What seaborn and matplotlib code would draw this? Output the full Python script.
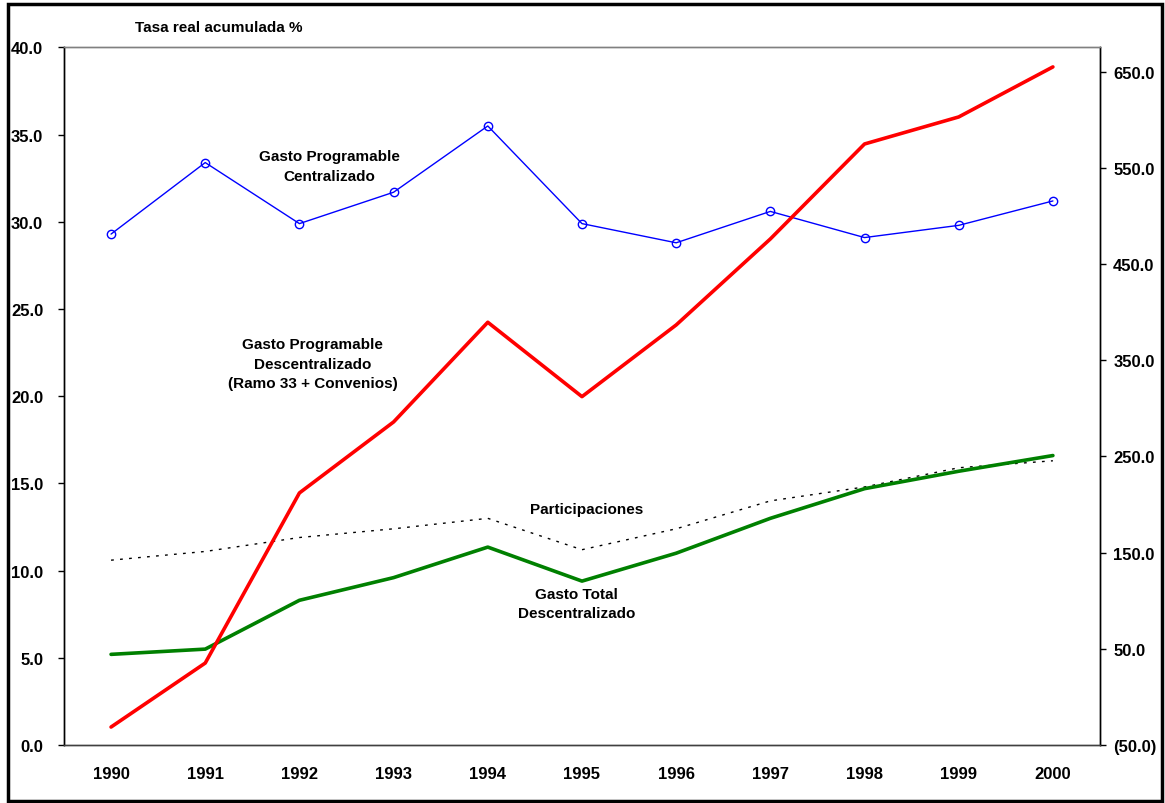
import numpy as np
import pandas as pd
import seaborn as sns
import matplotlib.pyplot as plt
from matplotlib.patches import Rectangle
from matplotlib.ticker import FixedLocator, FuncFormatter

# Datos
anios = [1990, 1991, 1992, 1993, 1994, 1995, 1996, 1997, 1998, 1999, 2000]
gasto_centralizado = [29.3, 33.4, 29.9, 31.7, 35.5, 29.9, 28.8, 30.6, 29.1, 29.8, 31.2]
gasto_descentralizado = [-31.3, 35.2, 212.0, 285.8, 389.4, 312.1, 386.6, 476.0, 574.7, 602.8, 654.8]
gasto_total_desc = [5.2, 5.5, 8.3, 9.6, 11.35, 9.4, 11.0, 13.0, 14.7, 15.7, 16.6]
participaciones = [10.6, 11.1, 11.9, 12.4, 13.0, 11.2, 12.4, 14.0, 14.8, 15.9, 16.3]

df = pd.DataFrame({
    'anio': anios,
    'centralizado': gasto_centralizado,
    'descentralizado': gasto_descentralizado,
    'total': gasto_total_desc,
    'participaciones': participaciones,
})

sns.set_style('white')
plt.rcParams['font.family'] = ['Liberation Sans', 'DejaVu Sans']
plt.rcParams['font.weight'] = 'bold'
plt.rcParams['text.color'] = 'black'
plt.rcParams['xtick.color'] = 'black'
plt.rcParams['ytick.color'] = 'black'
plt.rcParams['axes.labelcolor'] = 'black'

fig = plt.figure(figsize=(11.65, 8.04), dpi=100)
ax = fig.add_axes([0.0549, 0.0721, 0.9442 - 0.0549, 0.9397 - 0.0721])
ax2 = ax.twinx()

sns.lineplot(data=df, x='anio', y='participaciones', ax=ax, color='black',
             lw=1.0, linestyle=(0, (2, 4.5)), estimator=None)
sns.lineplot(data=df, x='anio', y='total', ax=ax, color='#008000',
             lw=2.6, estimator=None, solid_joinstyle='round')
sns.lineplot(data=df, x='anio', y='centralizado', ax=ax, color='#0000FF',
             lw=1.0, marker='o', markersize=6, markerfacecolor='none',
             markeredgecolor='#0000FF', markeredgewidth=1.0, estimator=None)
sns.lineplot(data=df, x='anio', y='descentralizado', ax=ax2, color='#FF0000',
             lw=2.6, estimator=None, solid_joinstyle='round', solid_capstyle='round')

# Ejes
ax.set_xlim(1989.5, 2000.5)
ax.set_ylim(0, 40)
ax2.set_ylim(-50, 675)
ax.set_xlabel('')
ax.set_ylabel('')
ax2.set_ylabel('')

ax.set_xticks(anios)
ax.set_xticklabels([str(a) for a in anios])
ax.xaxis.set_minor_locator(FixedLocator(np.arange(1989.5, 2001, 1)))
ax.tick_params(axis='x', which='major', length=0, pad=15, labelsize=12, labelcolor='black')
ax.tick_params(axis='x', which='minor', length=5, width=1, color='black', direction='out')

ax.set_yticks(np.arange(0, 40.1, 5))
ax.yaxis.set_major_formatter(FuncFormatter(lambda v, p: f'{v:.1f}'))
ax.tick_params(axis='y', length=4.5, width=1, color='black', direction='out', pad=10.5,
               labelsize=12, labelcolor='black')

ax2.set_yticks(np.arange(-50, 651, 100))
ax2.yaxis.set_major_formatter(FuncFormatter(lambda v, p: f'({abs(v):.1f})' if v < 0 else f'{v:.1f}'))
ax2.tick_params(axis='y', length=4.5, width=1, color='black', direction='out', pad=5,
                labelsize=12, labelcolor='black')

for a in (ax, ax2):
    for lab in a.get_xticklabels() + a.get_yticklabels():
        lab.set_fontweight('bold')

for a in (ax, ax2):
    a.spines['left'].set_color('black')
    a.spines['right'].set_color('black')
    a.spines['top'].set_color('#808080')
    a.spines['bottom'].set_color('#404040')
    for s in a.spines.values():
        s.set_linewidth(1.0)

# Textos
fig.text(219 / 1165, 1 - 28 / 804, 'Tasa real acumulada %', ha='center', va='center',
         fontsize=11, fontweight='bold', color='black')
ax.text(1992.32, 33.2, 'Gasto Programable\nCentralizado', ha='center', va='center',
        fontsize=11, fontweight='bold', linespacing=1.55, color='black')
ax.text(1992.14, 21.85, 'Gasto Programable\nDescentralizado\n(Ramo 33 + Convenios)',
        ha='center', va='center', fontsize=11, fontweight='bold', linespacing=1.5, color='black')
ax.text(1995.05, 13.53, 'Participaciones', ha='center', va='center',
        fontsize=11, fontweight='bold', color='black')
ax.text(1994.94, 8.14, 'Gasto Total\nDescentralizado', ha='center', va='center',
        fontsize=11, fontweight='bold', linespacing=1.45, color='black')

# Marco exterior
fig.add_artist(Rectangle((0.0065, 0.003), 0.991, 0.9905, transform=fig.transFigure,
                         fill=False, lw=2.5, ec='black'))

fig.savefig('out.png', dpi=100)
